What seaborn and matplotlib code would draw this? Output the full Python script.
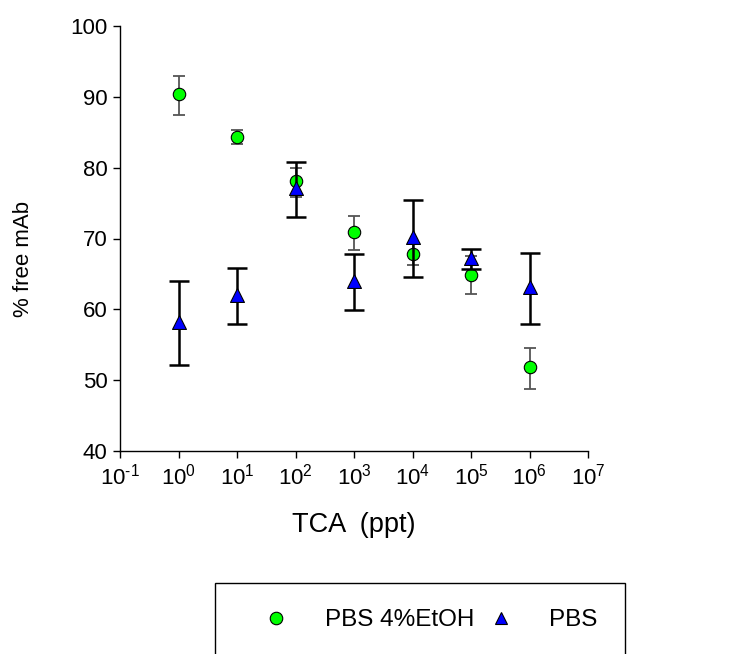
import numpy as np
import pandas as pd
import matplotlib
matplotlib.use("Agg")
import matplotlib.pyplot as plt
import seaborn as sns
from matplotlib.lines import Line2D
from matplotlib.patches import Rectangle

# data
tca = [1, 10, 100, 1000, 10000, 100000, 1000000]
etoh_mean = [90.4, 84.4, 78.1, 70.9, 67.8, 64.8, 51.8]
etoh_lo = [87.4, 83.3, 75.9, 68.4, 66.2, 62.1, 48.8]
etoh_hi = [93.0, 85.3, 79.9, 73.2, 69.4, 67.5, 54.5]
pbs_mean = [58.2, 62.0, 77.1, 64.0, 70.2, 67.3, 63.2]
pbs_lo = [52.1, 57.9, 73.0, 59.9, 64.5, 65.7, 58.0]
pbs_hi = [64.0, 65.8, 80.8, 67.8, 75.4, 68.5, 67.9]
x_exponents = [-1, 0, 1, 2, 3, 4, 5, 6, 7]
y_ticks = [40, 50, 60, 70, 80, 90, 100]
series_names = ["PBS 4%EtOH", "PBS"]

sns.set_theme(style="white")
plt.rcParams['font.family'] = ['Liberation Sans', 'DejaVu Sans']
plt.rcParams['mathtext.fontset'] = 'custom'
plt.rcParams['mathtext.rm'] = 'Liberation Sans'
plt.rcParams['mathtext.default'] = 'regular'
plt.rcParams['text.color'] = 'black'
plt.rcParams['axes.labelcolor'] = 'black'

fig = plt.figure(figsize=(7.41, 6.54), dpi=100)
ax = fig.add_axes([120 / 741, 1 - 451 / 654, 468 / 741, 425 / 654])

df_etoh = pd.DataFrame({"TCA": tca, "val": etoh_mean})
df_pbs = pd.DataFrame({"TCA": tca, "val": pbs_mean})

# EtOH series: grey thin error bars, green circles
ax.errorbar(tca, etoh_mean,
            yerr=[np.array(etoh_mean) - np.array(etoh_lo), np.array(etoh_hi) - np.array(etoh_mean)],
            fmt='none', ecolor='#555555', elinewidth=1.3, capsize=4.5, capthick=1.3, zorder=2)
sns.scatterplot(data=df_etoh, x="TCA", y="val", ax=ax, marker='o', s=80,
                color='#00FF00', edgecolor='black', linewidth=0.8, zorder=3, legend=False)

# PBS series: black thicker error bars, blue triangles
ax.errorbar(tca, pbs_mean,
            yerr=[np.array(pbs_mean) - np.array(pbs_lo), np.array(pbs_hi) - np.array(pbs_mean)],
            fmt='none', ecolor='black', elinewidth=1.8, capsize=7.5, capthick=1.8, zorder=4)
sns.scatterplot(data=df_pbs, x="TCA", y="val", ax=ax, marker='^', s=100,
                color='#0000FF', edgecolor='black', linewidth=0.8, zorder=5, legend=False)

ax.set_xscale('log')
ax.set_xlim(10.0 ** x_exponents[0], 10.0 ** x_exponents[-1])
ax.set_ylim(y_ticks[0], y_ticks[-1])
ax.set_yticks(y_ticks)
ax.set_xticks([10.0 ** e for e in x_exponents])
ax.set_xticklabels([rf'$10^{{\text{{-}}{-e}}}$' if e < 0 else rf'$10^{{{e}}}$' for e in x_exponents])
ax.xaxis.set_minor_locator(matplotlib.ticker.NullLocator())

for side in ['top', 'right']:
    ax.spines[side].set_visible(False)
for side in ['left', 'bottom']:
    ax.spines[side].set_color('black')
    ax.spines[side].set_linewidth(1.0)
ax.tick_params(axis='both', which='major', direction='out', length=5, width=1,
               color='black', labelsize=16, labelcolor='black', pad=4, bottom=True, left=True)

ax.set_xlabel("TCA  (ppt)", fontsize=19.5, color='black', labelpad=16)
ax.set_ylabel("% free mAb", fontsize=16, color='black')
ax.yaxis.set_label_coords(-0.184, 0.452)

# legend: open-bottom box plus frameless entries
fig.add_artist(Rectangle((215 / 741, -0.02), 410 / 741, (654 - 583) / 654 + 0.02,
                         transform=fig.transFigure, fill=False, edgecolor='black', linewidth=1.0))
handles = [
    Line2D([], [], linestyle='none', marker='o', markersize=9, markerfacecolor='#00FF00',
           markeredgecolor='black', markeredgewidth=0.8),
    Line2D([], [], linestyle='none', marker='^', markersize=9, markerfacecolor='#0000FF',
           markeredgecolor='black', markeredgewidth=0.8),
]
leg = fig.legend(handles, series_names, loc='center left', ncol=2,
                 bbox_to_anchor=(264 / 741, 1 - 620 / 654),
                 fontsize=17.5, frameon=False, borderpad=0, borderaxespad=0,
                 handlelength=1.0, handletextpad=1.5, columnspacing=0.6)

fig.savefig("out.png", dpi=100)
